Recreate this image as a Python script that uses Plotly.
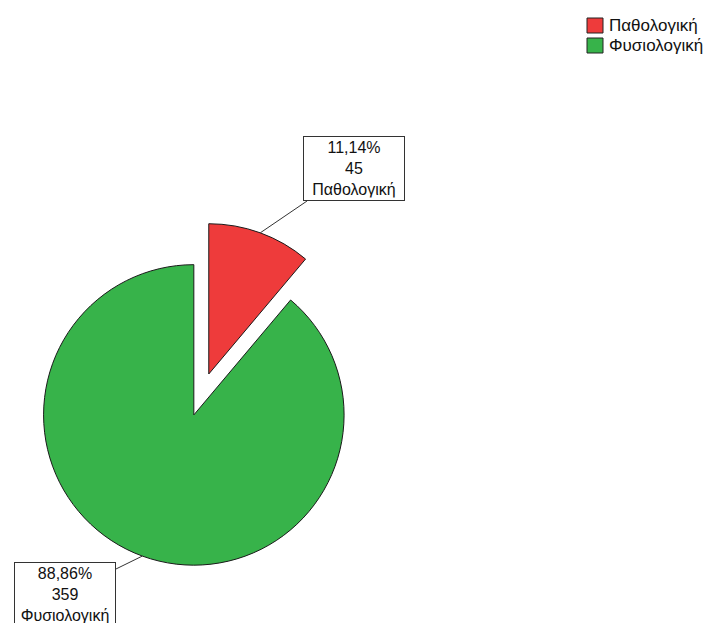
import math
import plotly.graph_objects as go

# Category names and observed counts
categories = ["Παθολογική", "Φυσιολογική"]
counts = [45, 359]
slice_colors = ["#EE3B3B", "#37B34A"]
pulls = [0.29, 0.0]

W, H = 710, 623
dom_x = [0.0, 0.546]
dom_y = [0.0, 0.668]
FONT = "Liberation Sans, Arial, sans-serif"

total = sum(counts)
fractions = [c / total for c in counts]
pct_text = [f"{100 * f:.2f}%".replace(".", ",") for f in fractions]

fig = go.Figure(
    go.Pie(
        labels=categories,
        values=counts,
        sort=False,
        direction="clockwise",
        rotation=0,
        pull=pulls,
        textinfo="none",
        hoverinfo="label+value+percent",
        marker=dict(colors=slice_colors, line=dict(color="#1a1a1a", width=1)),
        domain=dict(x=dom_x, y=dom_y),
        showlegend=False,
    )
)

# Pie geometry in pixels, following plotly's own layout of the pie domain
pw = W * (dom_x[1] - dom_x[0])
ph = H * (dom_y[1] - dom_y[0])
r = min(pw, ph) / 2 / (1 + max(pulls))
cx = W * (dom_x[0] + dom_x[1]) / 2
cy = H * (1 - dom_y[0]) - ph / 2

# Label boxes (pixel centres) for each slice
box_centres = [(354, 169), (65, 594)]

cum = 0.0
for i, frac in enumerate(fractions):
    mid = math.radians((cum + frac / 2) * 360)
    cum += frac
    sx = cx + pulls[i] * r * math.sin(mid)
    sy = cy - pulls[i] * r * math.cos(mid)
    px = sx + r * math.sin(mid)
    py = sy - r * math.cos(mid)
    bx, by = box_centres[i]
    fig.add_annotation(
        x=px / W,
        y=1 - py / H,
        xref="paper",
        yref="paper",
        text=f"{pct_text[i]}<br>{counts[i]}<br>{categories[i]}",
        align="center",
        width=96,
        showarrow=True,
        arrowhead=0,
        arrowwidth=1,
        arrowcolor="#333333",
        ax=bx - px,
        ay=by - py,
        bgcolor="white",
        bordercolor="#333333",
        borderwidth=1,
        borderpad=2,
        font=dict(family=FONT, size=16, color="#111111"),
    )

# Legend: square swatches with category names, top right
leg_x0, leg_y0, sw, row = 587, 18, 16, 20
for i, name in enumerate(categories):
    top = leg_y0 + i * row
    fig.add_shape(
        type="rect",
        xref="paper",
        yref="paper",
        x0=leg_x0 / W,
        x1=(leg_x0 + sw) / W,
        y0=1 - (top + sw - 1) / H,
        y1=1 - top / H,
        fillcolor=slice_colors[i],
        line=dict(color="#222222", width=1),
    )
    fig.add_annotation(
        x=(leg_x0 + sw + 4) / W,
        y=1 - (top + (sw - 1) / 2) / H,
        xref="paper",
        yref="paper",
        xanchor="left",
        yanchor="middle",
        text=name,
        showarrow=False,
        font=dict(family=FONT, size=17, color="#111111"),
    )

fig.update_layout(
    width=W,
    height=H,
    margin=dict(l=0, r=0, t=0, b=0),
    paper_bgcolor="white",
    plot_bgcolor="white",
    showlegend=False,
)

fig.write_html("out.html")
